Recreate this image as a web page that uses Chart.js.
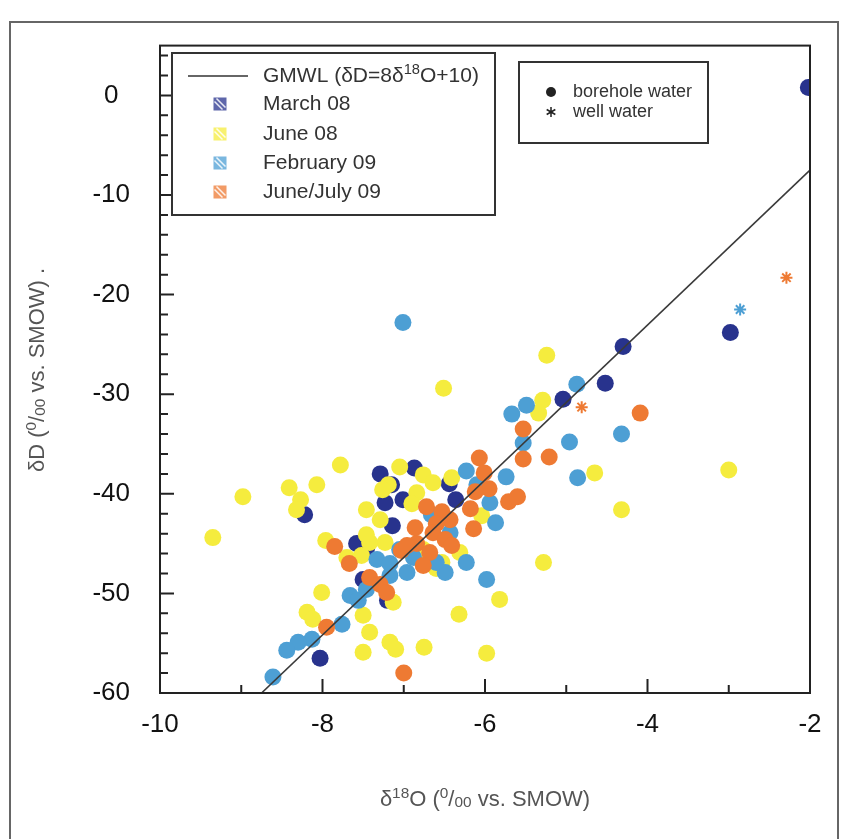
<!DOCTYPE html>
<html>
<head>
<meta charset="utf-8">
<script src="https://cdn.jsdelivr.net/npm/chart.js@4/dist/chart.umd.min.js"></script>
<style>body{margin:0;background:#fff}</style>
</head>
<body>
<canvas id="iso" width="844" height="839"></canvas>
<script>
// axis ticks
const xTicks = [-10, -8, -6, -4, -2];
const yTicks = [-60, -50, -40, -30, -20, -10, 0];

// GMWL end points
const gmwl = [[-8.75, -60], [-2.0, -7.5]];

// borehole water, [d18O, dD]
const march08 = [
  [-2.02, 0.8], [-2.98, -23.8], [-4.30, -25.2], [-4.52, -28.9], [-5.04, -30.5],
  [-7.29, -38.0], [-6.87, -37.4], [-7.15, -39.1], [-7.01, -40.6], [-7.23, -40.9],
  [-6.44, -39.0], [-6.36, -40.6], [-7.14, -43.2], [-8.22, -42.1], [-7.58, -45.0],
  [-7.46, -45.6], [-7.50, -48.6], [-7.20, -50.7], [-8.03, -56.5]
];
const june08 = [
  [-5.24, -26.1], [-6.51, -29.4], [-5.29, -30.6], [-5.34, -31.9], [-4.65, -37.9],
  [-3.00, -37.6], [-4.32, -41.6], [-5.28, -46.9], [-7.78, -37.1], [-8.41, -39.4],
  [-8.07, -39.1], [-8.98, -40.3], [-8.27, -40.6], [-8.32, -41.6], [-9.35, -44.4],
  [-7.96, -44.7], [-7.70, -46.4], [-7.52, -46.2], [-7.23, -44.9], [-8.01, -49.9],
  [-8.19, -51.9], [-8.12, -52.6], [-7.50, -52.2], [-7.42, -53.9], [-7.50, -55.9],
  [-7.17, -54.9], [-7.13, -50.9], [-7.05, -37.3], [-7.19, -39.1], [-7.26, -39.6],
  [-6.76, -38.1], [-6.64, -38.9], [-6.41, -38.4], [-6.04, -42.2], [-7.46, -41.6],
  [-7.29, -42.6], [-6.84, -39.9], [-7.42, -44.9], [-7.46, -44.1], [-6.31, -45.9],
  [-6.53, -46.9], [-6.76, -45.6], [-6.90, -41.0], [-6.60, -47.5], [-5.82, -50.6],
  [-5.98, -56.0], [-6.75, -55.4], [-6.32, -52.1], [-7.10, -55.6]
];
const feb09 = [
  [-7.01, -22.8], [-4.87, -29.0], [-5.67, -32.0], [-5.49, -31.1], [-5.53, -34.9],
  [-4.32, -34.0], [-4.96, -34.8], [-5.74, -38.3], [-4.86, -38.4], [-6.23, -37.7],
  [-6.10, -39.1], [-5.94, -40.9], [-5.87, -42.9], [-6.43, -43.9], [-6.66, -42.1],
  [-6.23, -46.9], [-5.98, -48.6], [-6.49, -47.9], [-6.60, -46.9], [-6.88, -46.4],
  [-6.96, -47.9], [-7.17, -48.2], [-7.05, -45.6], [-7.33, -46.6], [-7.17, -47.0],
  [-7.66, -50.2], [-7.56, -50.7], [-7.46, -49.6], [-7.76, -53.1], [-8.13, -54.6],
  [-8.30, -54.9], [-8.44, -55.7], [-8.61, -58.4]
];
const juneJuly09 = [
  [-4.09, -31.9], [-5.53, -33.5], [-5.53, -36.5], [-5.21, -36.3], [-6.07, -36.4],
  [-6.01, -37.9], [-5.95, -39.5], [-6.12, -39.8], [-5.71, -40.8], [-5.60, -40.3],
  [-6.18, -41.5], [-6.14, -43.5], [-6.72, -41.3], [-6.53, -41.8], [-6.43, -42.6],
  [-6.60, -43.0], [-6.86, -43.4], [-6.64, -43.9], [-6.49, -44.6], [-6.41, -45.2],
  [-6.84, -45.0], [-7.03, -45.7], [-6.68, -45.9], [-6.76, -47.2], [-6.96, -45.2],
  [-7.85, -45.3], [-7.67, -47.0], [-7.42, -48.4], [-7.29, -49.1], [-7.21, -49.9],
  [-7.95, -53.4], [-7.00, -58.0]
];
// well water
const feb09Well = [[-2.86, -21.5]];
const juneJuly09Well = [[-2.29, -18.3], [-4.81, -31.3]];

const NAVY = '#28338d', YELLOW = '#f5ec3e', BLUE = '#4d9fd4', ORANGE = '#ee7a33';
const FONT = '"Liberation Sans", Arial, sans-serif';

const pts = a => a.map(p => ({x: p[0], y: p[1]}));
const dots = (a, c) => ({data: pts(a), backgroundColor: c, borderWidth: 0, pointRadius: 8.5, pointHoverRadius: 8.5});
const stars = (a, c) => ({data: pts(a), pointStyle: 'star', borderColor: c, backgroundColor: c, borderWidth: 2, pointRadius: 6});

// text with super/subscripts
function rich(ctx, parts, x, y, size, align) {
  const segs = parts.map(p => {
    const s = (p.sup || p.sub) ? size * 0.7 : size;
    ctx.font = s + 'px ' + FONT;
    return {p: p, s: s, w: ctx.measureText(p.t).width};
  });
  const total = segs.reduce((a, g) => a + g.w, 0);
  let cx = align === 'center' ? x - total / 2 : x;
  ctx.textAlign = 'left';
  ctx.textBaseline = 'middle';
  segs.forEach(g => {
    ctx.font = g.s + 'px ' + FONT;
    const dy = g.p.sup ? -size * 0.3 : g.p.sub ? size * 0.12 : 0;
    ctx.fillText(g.p.t, cx, y + dy);
    cx += g.w;
  });
}

const decor = {
  id: 'decor',
  afterDraw(chart) {
    const ctx = chart.ctx, a = chart.chartArea;
    const xs = chart.scales.x, ys = chart.scales.y;
    ctx.save();
    // outer figure border
    ctx.strokeStyle = '#666'; ctx.lineWidth = 2;
    ctx.strokeRect(10, 22, 828, 840);
    // plot frame
    ctx.strokeStyle = '#222'; ctx.lineWidth = 2;
    ctx.strokeRect(a.left, a.top, a.right - a.left, a.bottom - a.top);
    // inward ticks
    ctx.beginPath();
    for (let v = -10; v <= -2; v += 1) {
      const px = xs.getPixelForValue(v), len = v % 2 === 0 ? 14 : 8;
      ctx.moveTo(px, a.bottom); ctx.lineTo(px, a.bottom - len);
    }
    for (let v = -60; v <= 4; v += 2) {
      const py = ys.getPixelForValue(v), len = v % 10 === 0 ? 14 : 8;
      ctx.moveTo(a.left, py); ctx.lineTo(a.left + len, py);
    }
    ctx.stroke();

    // axis titles
    ctx.fillStyle = '#555';
    rich(ctx, [{t: 'δ'}, {t: '18', sup: true}, {t: 'O ('}, {t: '0', sup: true}, {t: '/'}, {t: '00', sub: true}, {t: ' vs. SMOW)'}],
      (a.left + a.right) / 2, 800, 22, 'center');
    ctx.save();
    ctx.translate(38, 370); ctx.rotate(-Math.PI / 2);
    rich(ctx, [{t: 'δD ('}, {t: '0', sup: true}, {t: '/'}, {t: '00', sub: true}, {t: ' vs. SMOW) .'}], 0, 0, 22, 'center');
    ctx.restore();

    // legend 1
    ctx.fillStyle = '#fff';
    ctx.fillRect(172, 53, 323, 162);
    ctx.strokeStyle = '#333'; ctx.lineWidth = 2;
    ctx.strokeRect(172, 53, 323, 162);
    ctx.beginPath(); ctx.moveTo(188, 76); ctx.lineTo(248, 76); ctx.lineWidth = 1.6; ctx.stroke();
    ctx.fillStyle = '#333';
    rich(ctx, [{t: 'GMWL (δD=8δ'}, {t: '18', sup: true}, {t: 'O+10)'}], 263, 76, 21, 'left');
    const rows = [['March 08', NAVY, 104], ['June 08', YELLOW, 134], ['February 09', BLUE, 163], ['June/July 09', ORANGE, 192]];
    rows.forEach(r => {
      const cx = 220, cy = r[2], h = 6.5;
      ctx.globalAlpha = 0.75;
      ctx.fillStyle = r[1];
      ctx.fillRect(cx - h, cy - h, 2 * h, 2 * h);
      ctx.globalAlpha = 1;
      ctx.strokeStyle = 'rgba(255,255,255,0.85)'; ctx.lineWidth = 1.5;
      ctx.beginPath();
      ctx.moveTo(cx - h + 3, cy - h + 1); ctx.lineTo(cx + h - 1, cy + h - 3);
      ctx.moveTo(cx - h + 1, cy - h + 4); ctx.lineTo(cx + h - 4, cy + h - 1);
      ctx.stroke();
      ctx.fillStyle = '#333';
      ctx.font = '21px ' + FONT; ctx.textAlign = 'left'; ctx.textBaseline = 'middle';
      ctx.fillText(r[0], 263, cy);
    });

    // legend 2
    ctx.fillStyle = '#fff';
    ctx.fillRect(519, 62, 189, 81);
    ctx.strokeStyle = '#333'; ctx.lineWidth = 2;
    ctx.strokeRect(519, 62, 189, 81);
    ctx.fillStyle = '#222';
    ctx.beginPath(); ctx.arc(551, 92, 5, 0, Math.PI * 2); ctx.fill();
    ctx.strokeStyle = '#222'; ctx.lineWidth = 1.5;
    ctx.beginPath();
    for (let k = 0; k < 3; k++) {
      const ang = k * Math.PI / 3 + Math.PI / 2;
      ctx.moveTo(551 - 5 * Math.cos(ang), 112 - 5 * Math.sin(ang));
      ctx.lineTo(551 + 5 * Math.cos(ang), 112 + 5 * Math.sin(ang));
    }
    ctx.stroke();
    ctx.fillStyle = '#333';
    ctx.font = '18px ' + FONT; ctx.textAlign = 'left'; ctx.textBaseline = 'middle';
    ctx.fillText('borehole water', 573, 92);
    ctx.fillText('well water', 573, 112);
    ctx.restore();
  }
};

new Chart(document.getElementById('iso').getContext('2d'), {
  type: 'scatter',
  data: {
    datasets: [
      {data: pts(gmwl), showLine: true, borderColor: '#3a3a3a', borderWidth: 1.6, pointRadius: 0},
      stars(feb09Well, BLUE),
      stars(juneJuly09Well, ORANGE),
      dots(juneJuly09, ORANGE),
      dots(feb09, BLUE),
      dots(june08, YELLOW),
      dots(march08, NAVY)
    ]
  },
  options: {
    responsive: false,
    animation: false,
    events: [],
    layout: {padding: {left: 10, right: 34, top: 42, bottom: 0}},
    plugins: {legend: {display: false}, tooltip: {enabled: false}},
    scales: {
      x: {
        type: 'linear', min: -10, max: -2,
        afterBuildTicks: s => { s.ticks = xTicks.map(v => ({value: v})); },
        afterFit: s => { s.height = 146; },
        grid: {display: false, drawTicks: false},
        border: {display: false},
        ticks: {padding: 16, color: '#111', font: {size: 26, family: FONT}}
      },
      y: {
        type: 'linear', min: -60, max: 5,
        afterBuildTicks: s => { s.ticks = yTicks.map(v => ({value: v})); },
        afterFit: s => { s.width = 150; },
        grid: {display: false, drawTicks: false},
        border: {display: false},
        ticks: {padding: 30, crossAlign: 'center', color: '#111', font: {size: 26, family: FONT}}
      }
    }
  },
  plugins: [decor]
});
</script>
</body>
</html>
